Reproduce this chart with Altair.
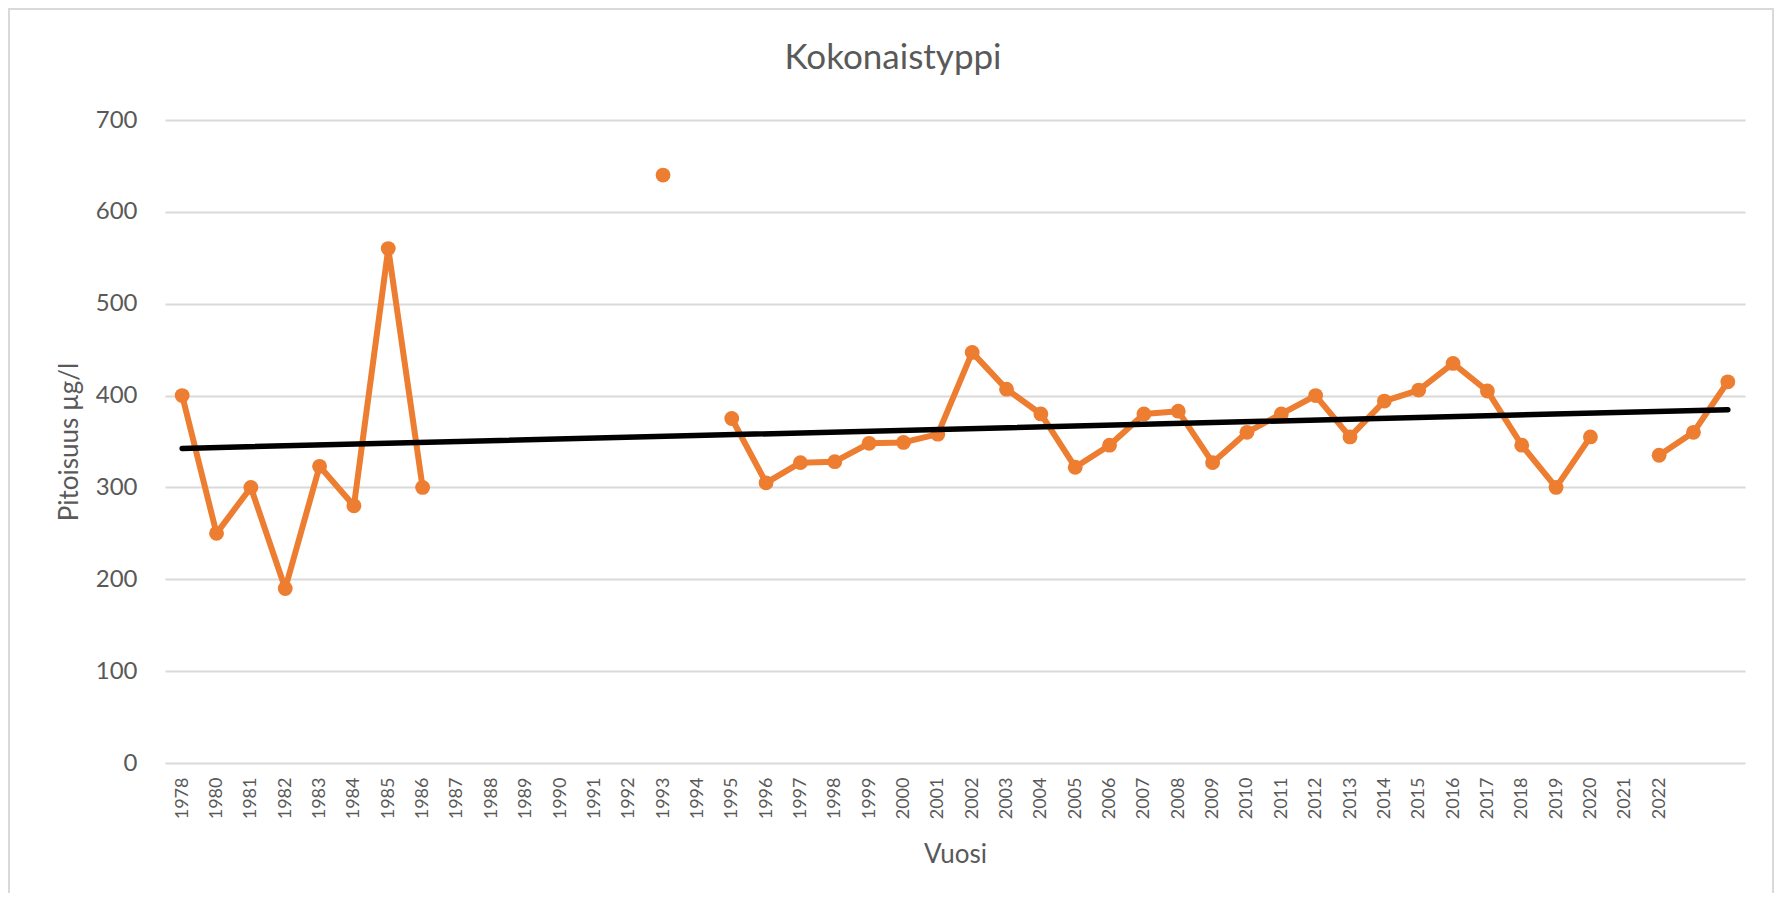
import altair as alt
import pandas as pd

# ---- data ----
year_labels = ["1978", "1980", "1981", "1982", "1983", "1984", "1985", "1986",
               "1987", "1988", "1989", "1990", "1991", "1992", "1993", "1994",
               "1995", "1996", "1997", "1998", "1999", "2000", "2001", "2002",
               "2003", "2004", "2005", "2006", "2007", "2008", "2009", "2010",
               "2011", "2012", "2013", "2014", "2015", "2016", "2017", "2018",
               "2019", "2020", "2021", "2022", "", ""]
values = [400, 250, 300, 190, 323, 280, 560, 300,
          None, None, None, None, None, None, 640, None,
          375, 305, 327, 328, 348, 349, 358, 447,
          407, 380, 322, 346, 380, 383, 327, 360,
          380, 400, 355, 394, 406, 435, 405, 346,
          300, 355, None, 335, 360, 415]
y_ticks = [0, 100, 200, 300, 400, 500, 600, 700]

ORANGE = "#ED7D31"
TXT = "#595959"
GRID = "#D9D9D9"
W, H = 1580, 643

idx = list(range(len(values)))
df = pd.DataFrame({"idx": idx, "label": year_labels, "value": values})
df["seg"] = df["value"].isna().cumsum()
dfv = df.dropna(subset=["value"]).copy()

label_expr = "[" + ",".join("'%s'" % s for s in year_labels) + "][datum.value]"

x_enc = alt.X(
    "idx:Q",
    scale=alt.Scale(domain=[-0.5, len(values) - 0.5], nice=False, zero=False),
    axis=alt.Axis(
        values=idx, labelExpr=label_expr, labelAngle=270, labelAlign="right",
        labelBaseline="middle", labelPadding=14, labelFontSize=18, labelColor=TXT,
        labelOverlap=False, labelFlush=False, ticks=False, domain=False, grid=False,
        title="Vuosi", titleX=W / 2, titleY=99, titleBaseline="alphabetic",
        titleAlign="center", titleAngle=0, titleFontSize=26, titleColor=TXT,
        titleFontWeight="normal",
    ),
)
y_enc = alt.Y(
    "value:Q",
    scale=alt.Scale(domain=[0, 700], nice=False, zero=True),
    axis=alt.Axis(
        values=y_ticks, labelFontSize=24, labelColor=TXT, labelPadding=28,
        ticks=False, domain=False, grid=True, gridColor=GRID, gridWidth=2,
        title="Pitoisuus µg/l", titleX=-88, titleY=H / 2, titleAngle=270,
        titleBaseline="alphabetic", titleAlign="center", titleFontSize=26,
        titleColor=TXT, titleFontWeight="normal",
    ),
)

base = alt.Chart(dfv)

line = base.mark_line(color=ORANGE, strokeWidth=6, strokeCap="round",
                      strokeJoin="round").encode(x=x_enc, y=y_enc, detail="seg:N")
points = base.mark_circle(color=ORANGE, size=220, opacity=1).encode(x=x_enc, y=y_enc)
trend = base.transform_regression(
    "idx", "value", extent=[0, len(values) - 1]
).mark_line(color="black", strokeWidth=5.5, strokeCap="round").encode(x=x_enc, y=y_enc)

frame = alt.Chart(pd.DataFrame({"k": [0]})).mark_rect(
    filled=False, stroke=GRID, strokeWidth=2
).encode(x=alt.value(-156), x2=alt.value(W + 28), y=alt.value(-111), y2=alt.value(H + 200))

chart = alt.layer(frame, line, points, trend).properties(
    width=W, height=H,
    autosize=alt.AutoSizeParams(type="none"),
    padding={"left": 157, "top": 112, "right": 29, "bottom": 130},
    title=alt.TitleParams(
        "Kokonaistyppi", fontSize=35, font="Lato", color=TXT, fontWeight="normal",
        anchor="middle", baseline="alphabetic", offset=-96, frame="group", dx=-62,
    ),
).configure_view(stroke=None).configure_axis(
    labelFont="Lato", titleFont="Lato"
)

chart.save("out.html", embed_options={"renderer": "svg", "actions": False})
